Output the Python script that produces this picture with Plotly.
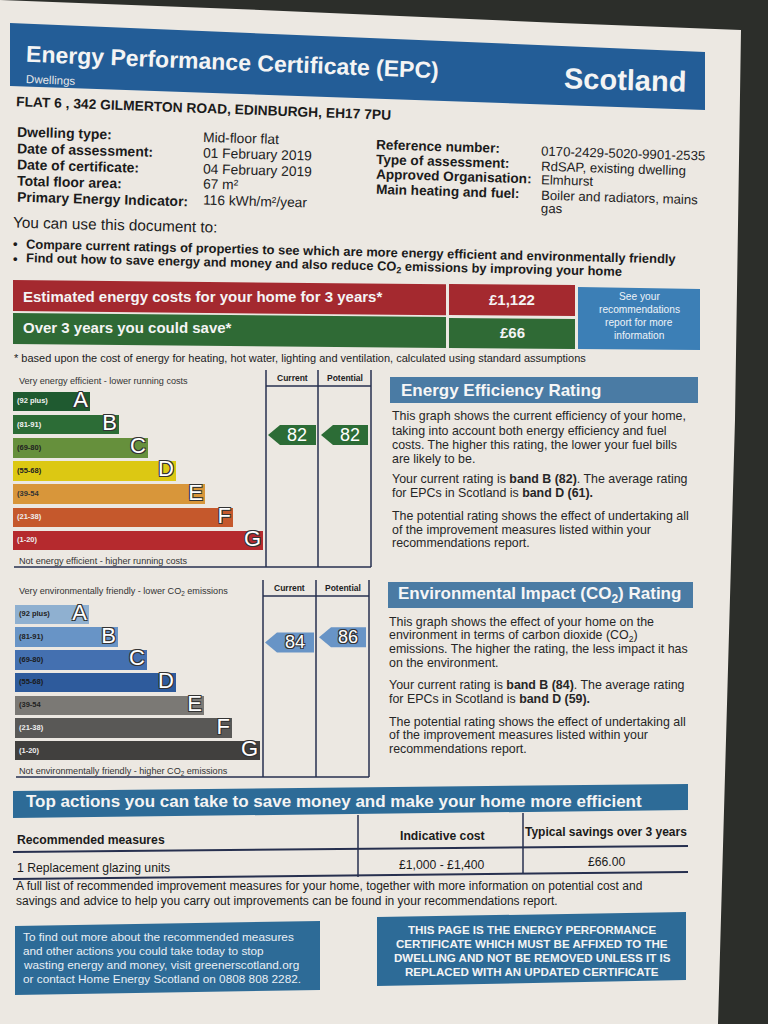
import math
import re
import plotly.graph_objects as go

W, H = 768, 1024
SANS = "Liberation Sans, Arial, Helvetica, sans-serif"

# ---------------- data ----------------
title = "Energy Performance Certificate (EPC)"
subtitle = "Dwellings"
country = "Scotland"
address = "FLAT 6 , 342 GILMERTON ROAD, EDINBURGH, EH17 7PU"
left_labels = ["Dwelling type:", "Date of assessment:", "Date of certificate:",
               "Total floor area:", "Primary Energy Indicator:"]
left_values = ["Mid-floor flat", "01 February 2019", "04 February 2019",
               "67 m²", "116 kWh/m²/year"]
right_labels = ["Reference number:", "Type of assessment:", "Approved Organisation:",
                "Main heating and fuel:"]
right_values = ["0170-2429-5020-9901-2535", "RdSAP, existing dwelling", "Elmhurst",
                "Boiler and radiators, mains", "gas"]
uses_intro = "You can use this document to:"
uses = ["Compare current ratings of properties to see which are more energy efficient and environmentally friendly",
        "Find out how to save energy and money and also reduce CO<sub>2</sub> emissions by improving your home"]
cost_labels = ["Estimated energy costs for your home for 3 years*", "Over 3 years you could save*"]
cost_values = ["£1,122", "£66"]
see_box = ["See your", "recommendations", "report for more", "information"]
footnote = "* based upon the cost of energy for heating, hot water, lighting and ventilation, calculated using standard assumptions"

bands = ["A", "B", "C", "D", "E", "F", "G"]
band_ranges = ["(92 plus)", "(81-91)", "(69-80)", "(55-68)", "(39-54", "(21-38)", "(1-20)"]
band_min = [92, 81, 69, 55, 39, 21, 1]
band_max = [100, 91, 80, 68, 54, 38, 20]
ee_colors = ["#1f5a30", "#2c6c36", "#66903c", "#dcc813", "#d8963a", "#c5582c", "#b52a2e"]
ei_colors = ["#8fb0d0", "#6894c6", "#4470b0", "#2e5b9c", "#7b7975", "#595856", "#41403e"]
ee_label_colors = ["#f2f2f2", "#f2f2f2", "#222222", "#222222", "#333333", "#eeeeee", "#eeeeee"]
ei_label_colors = ["#222222", "#222222", "#1a1a1a", "#1a1a1a", "#222222", "#eeeeee", "#eeeeee"]
ee_current, ee_potential = 82, 82
ei_current, ei_potential = 84, 86
col_heads = ["Current", "Potential"]

ee_top_text = "Very energy efficient - lower running costs"
ee_bottom_text = "Not energy efficient - higher running costs"
ei_top_text = "Very environmentally friendly - lower CO<sub>2</sub> emissions"
ei_bottom_text = "Not environmentally friendly - higher CO<sub>2</sub> emissions"

ee_title = "Energy Efficiency Rating"
ee_para = ["This graph shows the current efficiency of your home,",
           "taking into account both energy efficiency and fuel",
           "costs. The higher this rating, the lower your fuel bills",
           "are likely to be.",
           "Your current rating is <b>band B (82)</b>. The average rating",
           "for EPCs in Scotland is <b>band D (61).</b>",
           "The potential rating shows the effect of undertaking all",
           "of the improvement measures listed within your",
           "recommendations report."]
ei_title = "Environmental Impact (CO<sub>2</sub>) Rating"
ei_para = ["This graph shows the effect of your home on the",
           "environment in terms of carbon dioxide (CO<sub>2</sub>)",
           "emissions. The higher the rating, the less impact it has",
           "on the environment.",
           "Your current rating is <b>band B (84)</b>. The average rating",
           "for EPCs in Scotland is <b>band D (59).</b>",
           "The potential rating shows the effect of undertaking all",
           "of the improvement measures listed within your",
           "recommendations report."]

actions_title = "Top actions you can take to save money and make your home more efficient"
table_heads = ["Recommended measures", "Indicative cost", "Typical savings over 3 years"]
table_row = ["1 Replacement glazing units", "£1,000 - £1,400", "£66.00"]
full_list = ["A full list of recommended improvement measures for your home, together with more information on potential cost and",
             "savings and advice to help you carry out improvements can be found in your recommendations report."]
info_box = ["To find out more about the recommended measures",
            "and other actions you could take today to stop",
            "wasting energy and money, visit greenerscotland.org",
            "or contact Home Energy Scotland on 0808 808 2282."]
notice_box = ["THIS PAGE IS THE ENERGY PERFORMANCE",
              "CERTIFICATE WHICH MUST BE AFFIXED TO THE",
              "DWELLING AND NOT BE REMOVED UNLESS IT IS",
              "REPLACED WITH AN UPDATED CERTIFICATE"]

# ---------------- layout constants ----------------
BG = "#2c2e2a"
PAGE = "#ece8e2"
HEADER_BLUE = "#235d97"
STEEL = "#4a7ba4"
ACT_BLUE = "#2d6b97"
SEE_BLUE = "#3c7fb6"
RED = "#a4292f"
GREEN = "#2f6a35"
TXT = "#1b1b1b"
NAVY = "#27304f"

ee_x0 = 13
ee_ends = [90, 119, 148, 176, 205, 233, 263]
ee_c0, ee_pitch = 401.5, 23.15
ei_x0 = 15
ei_ends = [89, 118, 147, 176, 204, 232, 260]
ei_c0, ei_pitch = 614.5, 22.7
BAR_H = 19.5

annotations = []
shapes = []


def strip(t):
    return re.sub(r"<[^>]+>", "", t)


def T(x, y, text, size=12, color=TXT, family=SANS, weight="normal", anchor="left",
      slope=0.0, w=None, shadow=None):
    if w is None:
        k = 0.5 + (0.05 if weight == "bold" else 0.0)
        w = len(strip(text)) * size * k
    if anchor == "left":
        yc = y + slope * w / 2
    elif anchor == "right":
        yc = y - slope * w / 2
    else:
        yc = y
    # very small tilts are drawn level (centre kept where the tilted line sits)
    angle = math.degrees(math.atan(slope)) if abs(slope) > 0.011 else 0.0
    f = dict(size=size, color=color, family=family, weight=weight)
    if shadow:
        f["shadow"] = shadow
    annotations.append(dict(x=x, y=yc, xref="x", yref="y", text=text, showarrow=False,
                            xanchor=anchor, yanchor="middle", textangle=angle,
                            font=f, borderpad=0))


def quad(x0, x1, yt0, yb0, yt1, yb1, color):
    shapes.append(dict(type="path", xref="x", yref="y", layer="below",
                       path=f"M{x0},{yt0} L{x1},{yt1} L{x1},{yb1} L{x0},{yb0} Z",
                       fillcolor=color, line=dict(width=0)))


def line(x0, y0, x1, y1, color=NAVY, width=1.5):
    shapes.append(dict(type="line", xref="x", yref="y", layer="below",
                       x0=x0, y0=y0, x1=x1, y1=y1, line=dict(color=color, width=width)))


# page
shapes.append(dict(type="path", xref="x", yref="y", layer="below",
                   path="M0,0 L260,10 L560,23 L741,30 L735,420 L718,1024 L0,1024 Z",
                   fillcolor=PAGE, line=dict(width=0)))

# header
quad(10, 705, 23, 86, 52, 110, HEADER_BLUE)
T(25, 54, title, size=23, color="#f4f4f4", weight="bold", slope=0.04, w=415)
T(25, 79, subtitle, size=11.5, color="#e8e8e8", slope=0.04)
T(625, 80, country, size=29, color="#f4f4f4", weight="bold", anchor="center", slope=0.03)
T(15, 102, address, size=13.8, color=TXT, weight="bold", slope=0.036, w=375)

# details
ly = [132, 148, 164, 180, 196]
vy = [137, 153, 169, 184, 200]
for lab, val, a, b in zip(left_labels, left_values, ly, vy):
    T(16, a, lab, size=14, weight="bold", slope=0.027)
    T(202, b, val, size=13.8, color="#222", slope=0.027)
rly = [145, 159, 174, 189]
rvy = [151, 166, 180, 195, 208]
for lab, a in zip(right_labels, rly):
    T(375, a, lab, size=13.6, weight="bold", slope=0.03)
for val, b in zip(right_values, rvy):
    T(540, b, val, size=13.2, color="#222", slope=0.03)

T(12, 222, uses_intro, size=15.3, slope=0.025)
for i, (u, y) in enumerate(zip(uses, [244, 259])):
    T(12, y - 1, "•", size=13, weight="bold")
    T(25, y, u, size=12.9, weight="bold", slope=0.023, w=650 if i == 0 else 600)

# energy costs
quad(13, 446, 280, 311, 280 + 4.3, 311 + 4.3, RED)
quad(449, 575, 284, 315, 285, 316, RED)
quad(13, 446, 313, 344, 317, 348, GREEN)
quad(449, 575, 318, 348, 319, 349, GREEN)
quad(578, 700, 287, 349, 289, 350, SEE_BLUE)
for lab, val, ly_, vy_ in zip(cost_labels, cost_values, [294, 326], [299, 332]):
    T(22, ly_, lab, size=15, color="#f4f4f4", weight="bold", slope=0.01)
    T(512, vy_, val, size=15, color="#f4f4f4", weight="bold", anchor="center", slope=0.01)
for s, y in zip(see_box, [296, 309, 322, 335]):
    T(639, y, s, size=10.2, color="#eef3f8", anchor="center")
T(13, 357, footnote, size=11, color="#222", slope=0.004, w=570)


# rating charts
def rating_y(r, c0, pitch):
    for i in range(len(bands)):
        if band_min[i] <= r <= band_max[i]:
            mid = (band_min[i] + band_max[i]) / 2
            return c0 + i * pitch + (mid - r) * 2.6
    return c0


def arrow(x0, x1, yc, color):
    h = 10
    shapes.append(dict(type="path", xref="x", yref="y", layer="above",
                       path=f"M{x0},{yc} L{x0+12},{yc-h} L{x1},{yc-h} L{x1},{yc+h} L{x0+12},{yc+h} Z",
                       fillcolor=color, line=dict(width=0)))


OUTLINE = "1px 1px 0 #333, -1px -1px 0 #333, 1px -1px 0 #333, -1px 1px 0 #333"

traces = []
for (x0, ends, c0, pitch, colors, lcols, cols, top_y, bot_y, top_t, bot_t,
     cur, pot, cxs) in [
    (ee_x0, ee_ends, ee_c0, ee_pitch, ee_colors, ee_label_colors, (266, 318, 371), 370, 567,
     ee_top_text, ee_bottom_text, ee_current, ee_potential, ((268, 316), (321, 368))),
    (ei_x0, ei_ends, ei_c0, ei_pitch, ei_colors, ei_label_colors, (263, 316, 369), 580, 777,
     ei_top_text, ei_bottom_text, ei_current, ei_potential, ((265, 314), (319, 366))),
]:
    ys = [c0 + i * pitch for i in range(len(bands))]
    traces.append(go.Bar(orientation="h", y=ys, x=[e - x0 for e in ends], base=x0,
                         width=BAR_H, marker=dict(color=colors, line=dict(width=0)),
                         hoverinfo="skip", showlegend=False))
    traces.append(go.Scatter(x=[e - 2 for e in ends], y=ys, mode="text", text=bands,
                             textposition="middle left",
                             textfont=dict(size=22, color="#ffffff", family=SANS, shadow=OUTLINE),
                             hoverinfo="skip", showlegend=False))
    traces.append(go.Scatter(x=[x0 + 4] * len(bands), y=ys, mode="text", text=band_ranges,
                             textposition="middle right",
                             textfont=dict(size=7.5, color=lcols, family=SANS, weight="bold"),
                             hoverinfo="skip", showlegend=False))
    # frame
    for cx in cols:
        line(cx, top_y, cx, bot_y)
    line(cols[0], top_y + 16, cols[2], top_y + 16)
    line(x0 + 1, bot_y, cols[2], bot_y)
    T((cols[0] + cols[1]) / 2, top_y + 8, col_heads[0], size=8.5, color="#222", weight="bold", anchor="center")
    T((cols[1] + cols[2]) / 2, top_y + 8, col_heads[1], size=8.5, color="#222", weight="bold", anchor="center")
    T(18, top_y + 11, top_t, size=9.1, color="#333")
    T(18, bot_y - 6, bot_t, size=9.1, color="#333")
    for val, (ax0, ax1) in zip([cur, pot], cxs):
        yc = rating_y(val, c0, pitch)
        bi = [i for i in range(len(bands)) if band_min[i] <= val <= band_max[i]][0]
        arrow(ax0, ax1, yc, colors[bi])
        T((ax0 + 10 + ax1) / 2, yc, str(val), size=18, color="#ffffff", anchor="center",
          shadow=OUTLINE if colors is ei_colors else None)

# right text panels
quad(390, 698, 377, 403, 377, 403, STEEL)
T(400, 390, ee_title, size=17, color="#f6f6f6", weight="bold")
for s, y in zip(ee_para, [416, 431, 445, 459, 479, 493, 516, 530, 543]):
    T(391, y, s, size=12.4, color="#262626")
quad(388, 693, 582, 608, 582, 608, STEEL)
T(397, 595, ei_title, size=17, color="#f6f6f6", weight="bold")
for s, y in zip(ei_para, [622, 636, 649, 663, 685, 699, 722, 735, 749]):
    T(388, y, s, size=12.4, color="#262626")

# top actions
quad(13, 688, 791, 818, 784, 810, ACT_BLUE)
T(25, 805, actions_title, size=17, color="#f4f4f4", weight="bold", slope=-0.01, w=618)
line(358, 815, 358, 877, NAVY, 1.5)
line(523, 813, 523, 874, NAVY, 1.5)
line(13, 852, 688, 846, NAVY, 2)
line(13, 879, 688, 872, NAVY, 2)
T(16, 841, table_heads[0], size=12.2, weight="bold", slope=-0.008)
T(442, 836, table_heads[1], size=12.2, weight="bold", anchor="center", slope=-0.008)
T(606, 832, table_heads[2], size=12, weight="bold", anchor="center", slope=-0.008)
T(16, 869, table_row[0], size=12.2, slope=-0.008)
T(442, 865, table_row[1], size=12.2, anchor="center", slope=-0.008)
T(606, 862, table_row[2], size=12.2, anchor="center", slope=-0.008)
T(15, 889, full_list[0], size=12, slope=-0.01, w=625)
T(15, 904, full_list[1], size=12, slope=-0.01, w=545)

# bottom boxes
quad(15, 320, 926, 995, 921, 990, ACT_BLUE)
for s, y in zip(info_box, [939, 953, 967, 981]):
    T(22, y, s, size=11.8, color="#e9eff5", slope=-0.0105, w=290)
quad(377, 686, 917, 986, 912, 980, ACT_BLUE)
for s, y in zip(notice_box, [929, 943, 957, 971]):
    T(532, y, s, size=11.6, color="#f4f4f4", weight="bold", anchor="center", slope=-0.01)

fig = go.Figure(traces)
fig.update_layout(
    width=W, height=H, margin=dict(l=0, r=0, t=0, b=0),
    paper_bgcolor=BG, plot_bgcolor=BG,
    xaxis=dict(range=[0, W], visible=False, fixedrange=True),
    yaxis=dict(range=[H, 0], visible=False, fixedrange=True),
    shapes=shapes, annotations=annotations, showlegend=False,
    bargap=0,
)
fig.write_html("out.html", config={"displayModeBar": False},
               post_script="document.body.style.margin='0px';document.body.style.background='#2c2e2a';")
